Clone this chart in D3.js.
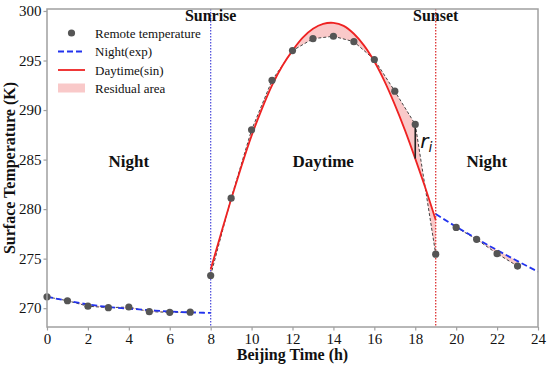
<!DOCTYPE html>
<html>
<head>
<meta charset="utf-8">
<title>Surface temperature</title>
<script src="https://d3js.org/d3.v7.min.js"></script>
<style>
body { margin: 0; background: #fff; }
text { font-family: "Liberation Serif", "Times New Roman", serif; fill: #111; }
</style>
</head>
<body>
<div id="chart"></div>
<script>

//Observed (remote sensing) temperatures, hourly
var hours = [0,1,2,3,4,5,6,7,8,9,10,11,12,13,14,15,16,17,18,19,20,21,22,23];
var temps = [271.15,270.75,270.2,270.05,270.12,269.65,269.58,269.6,
	273.3,281.1,288.0,293.0,296.0,297.2,297.45,296.9,295.1,291.9,288.55,275.45,
	278.15,276.95,275.5,274.25];

//Fitted night curve before sunrise (exp)
var nightAmHours = [0,1,2,3,4,5,6,7,8];
var nightAmFit = [271.15,270.75,270.38,270.12,269.95,269.8,269.66,269.58,269.52];

//Fitted daytime curve (sin)
var dayHours = [8,8.5,9,9.5,10,10.5,11,11.5,12,12.5,13,13.5,14,14.5,15,15.5,16,16.5,17,17.5,18,18.5,19];
var dayFit = [273.9,277.5,281.0,284.3,287.4,290.1,292.5,294.45,296.0,297.3,298.2,298.7,298.8,
	298.5,297.7,296.5,294.9,292.9,290.55,287.95,285.1,282.1,278.9];

//Fitted night curve after sunset (exp)
var nightPmHours = [19,20,21,22,23,24];
var nightPmFit = [279.5,278.22,277.02,275.86,274.75,273.68];

var xTicks = [0,2,4,6,8,10,12,14,16,18,20,22,24];
var yTicks = [270,275,280,285,290,295,300];
var sunriseHour = 8, sunsetHour = 19, residualHour = 18;

var width = 550, height = 366;
var margin = {top: 9, right: 12, bottom: 39, left: 47};

var svg = d3.select("#chart").append("svg")
	.attr("width", width)
	.attr("height", height);

var x = d3.scaleLinear().domain([0, 24]).range([margin.left, width - margin.right]);
var y = d3.scaleLinear().domain([268.1, 300.2]).range([height - margin.bottom, margin.top]);

var obs = hours.map(function(h, i) { return {h: h, t: temps[i]}; });
var pair = function(hs, ts) { return hs.map(function(h, i) { return {h: h, t: ts[i]}; }); };
var amFit = pair(nightAmHours, nightAmFit);
var dFit = pair(dayHours, dayFit);
var pmFit = pair(nightPmHours, nightPmFit);

var segAm = obs.filter(function(d) { return d.h <= 7; });
var segDay = obs.filter(function(d) { return d.h >= 8 && d.h <= 19; });
var segPm = obs.filter(function(d) { return d.h >= 20; });

var lineLin = d3.line().x(function(d) { return x(d.h); }).y(function(d) { return y(d.t); });
var lineSmooth = d3.line().x(function(d) { return x(d.h); }).y(function(d) { return y(d.t); })
	.curve(d3.curveMonotoneX);

//Residual area: observed polyline forward, fitted curve back
var residual = function(seg, fit) {
	var h0 = seg[0].h, h1 = seg[seg.length - 1].h;
	var f = fit.filter(function(d) { return d.h >= h0 && d.h <= h1; }).slice().reverse();
	var pts = seg.concat(f).map(function(d) { return [x(d.h), y(d.t)]; });
	return "M" + pts.join("L") + "Z";
};

var pink = "rgba(240,120,120,0.4)";
[[segAm, amFit], [segDay, dFit], [segPm, pmFit]].forEach(function(p) {
	svg.append("path").attr("d", residual(p[0], p[1])).attr("fill", pink).attr("stroke", "none");
});

//Sunrise / sunset markers
svg.append("line")
	.attr("x1", x(sunriseHour)).attr("x2", x(sunriseHour))
	.attr("y1", margin.top).attr("y2", height - margin.bottom)
	.attr("stroke", "#5555dd").attr("stroke-width", 1.3).attr("stroke-dasharray", "1.5,1.5");
svg.append("line")
	.attr("x1", x(sunsetHour)).attr("x2", x(sunsetHour))
	.attr("y1", margin.top).attr("y2", height - margin.bottom)
	.attr("stroke", "#dd3333").attr("stroke-width", 1.3).attr("stroke-dasharray", "1.5,1.5");

//Dashed polyline through observations
[segAm, segDay, segPm].forEach(function(s) {
	svg.append("path").attr("d", lineLin(s)).attr("fill", "none")
		.attr("stroke", "#444").attr("stroke-width", 1).attr("stroke-dasharray", "3,2");
});

//Fitted curves
svg.append("path").attr("d", lineSmooth(amFit)).attr("fill", "none")
	.attr("stroke", "#2233ee").attr("stroke-width", 1.8).attr("stroke-dasharray", "6,3");
svg.append("path").attr("d", lineSmooth(pmFit)).attr("fill", "none")
	.attr("stroke", "#2233ee").attr("stroke-width", 1.8).attr("stroke-dasharray", "6,3");
svg.append("path").attr("d", d3.line().x(function(d) { return x(d.h); }).y(function(d) { return y(d.t); })
		.curve(d3.curveCatmullRom)(dFit))
	.attr("fill", "none").attr("stroke", "#ee2222").attr("stroke-width", 1.8);

//Residual r_i
var rObs = temps[hours.indexOf(residualHour)];
var rFit = dayFit[dayHours.indexOf(residualHour)];
svg.append("line")
	.attr("x1", x(residualHour)).attr("x2", x(residualHour))
	.attr("y1", y(rObs)).attr("y2", y(rFit))
	.attr("stroke", "#222").attr("stroke-width", 1.6);
var rl = svg.append("text")
	.attr("x", x(residualHour) + 5).attr("y", y((rObs + rFit) / 2) + 6)
	.style("font-family", "'DejaVu Sans', sans-serif").style("font-style", "italic")
	.style("font-size", "20px");
rl.append("tspan").text("r");
rl.append("tspan").attr("dy", 4).style("font-size", "14px").text("i");

//Points
svg.selectAll("circle.obs").data(obs).enter().append("circle")
	.attr("class", "obs")
	.attr("cx", function(d) { return x(d.h); })
	.attr("cy", function(d) { return y(d.t); })
	.attr("r", 3.6)
	.attr("fill", "#555");

//Frame
svg.append("rect")
	.attr("x", margin.left).attr("y", margin.top)
	.attr("width", width - margin.left - margin.right)
	.attr("height", height - margin.top - margin.bottom)
	.attr("fill", "none").attr("stroke", "#a0a0a0").attr("stroke-width", 1.5);

//Axes
var xAxis = svg.append("g")
	.attr("transform", "translate(0," + (height - margin.bottom) + ")")
	.call(d3.axisBottom(x).tickValues(xTicks).tickSize(3.5).tickPadding(3));
var yAxis = svg.append("g")
	.attr("transform", "translate(" + margin.left + ",0)")
	.call(d3.axisLeft(y).tickValues(yTicks).tickSize(3.5).tickPadding(2));
[xAxis, yAxis].forEach(function(a) {
	a.select(".domain").remove();
	a.selectAll(".tick line").attr("stroke", "#a0a0a0").attr("stroke-width", 1.2);
	a.selectAll(".tick text").style("font-family", "'Liberation Serif', serif")
		.style("font-size", "15px").attr("fill", "#222");
});

svg.append("text")
	.attr("x", (margin.left + width - margin.right) / 2).attr("y", 360)
	.attr("text-anchor", "middle")
	.style("font-size", "16px").style("font-weight", "bold")
	.text("Beijing Time (h)");
svg.append("text")
	.attr("transform", "translate(15," + ((margin.top + height - margin.bottom) / 2) + ") rotate(-90)")
	.attr("text-anchor", "middle")
	.style("font-size", "16px").style("font-weight", "bold")
	.text("Surface Temperature (K)");

//Region labels
var label = function(txt, hx, yy, size) {
	svg.append("text").attr("x", x(hx)).attr("y", yy)
		.attr("text-anchor", "middle")
		.style("font-size", size).style("font-weight", "bold")
		.text(txt);
};
label("Sunrise", sunriseHour, 21, "16px");
label("Sunset", sunsetHour, 21, "16px");
label("Night", 4, 167, "17px");
label("Daytime", 13.5, 167, "17px");
label("Night", 21.5, 167, "17px");

//Legend
var lg = svg.append("g");
var lx0 = 58, lx1 = 85, ltx = 95, lrows = [33, 51.5, 70, 88];
lg.append("circle").attr("cx", (lx0 + lx1) / 2).attr("cy", lrows[0]).attr("r", 3.6).attr("fill", "#555");
lg.append("line").attr("x1", lx0).attr("x2", lx1).attr("y1", lrows[1]).attr("y2", lrows[1])
	.attr("stroke", "#2233ee").attr("stroke-width", 1.8).attr("stroke-dasharray", "6,3");
lg.append("line").attr("x1", lx0).attr("x2", lx1).attr("y1", lrows[2]).attr("y2", lrows[2])
	.attr("stroke", "#ee2222").attr("stroke-width", 1.8);
lg.append("rect").attr("x", lx0).attr("y", lrows[3] - 4.5).attr("width", lx1 - lx0).attr("height", 9)
	.attr("fill", pink);
["Remote temperature", "Night(exp)", "Daytime(sin)", "Residual area"].forEach(function(t, i) {
	lg.append("text").attr("x", ltx).attr("y", lrows[i] + 4.5)
		.style("font-size", "13px").text(t);
});

</script>
</body>
</html>
